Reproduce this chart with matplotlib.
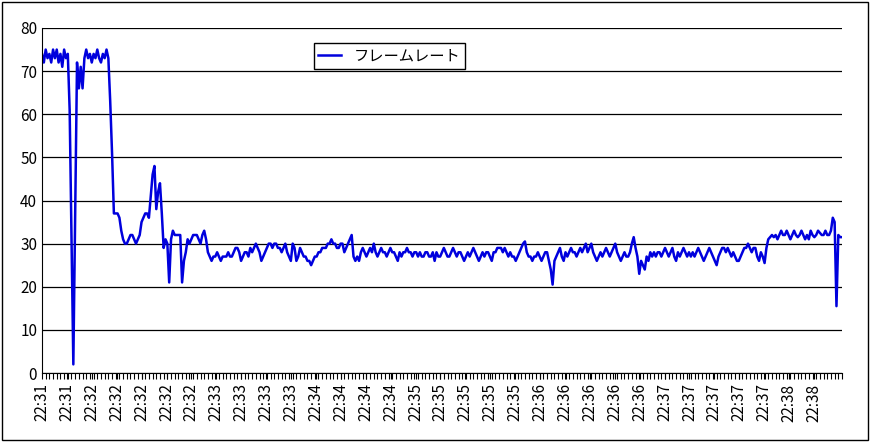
import numpy as np
import matplotlib.pyplot as plt
from matplotlib.ticker import MultipleLocator

plt.rcParams['font.family'] = ['Noto Sans CJK JP', 'DejaVu Sans']

# frame rate samples (one per second)
fps = [
    74, 72, 75, 73, 74, 72, 75, 73, 75, 72, 74, 71, 75, 73, 74,
    61, 31, 2, 38, 72, 66, 71,
    66, 73, 75, 73, 74, 72, 74, 73, 75, 73, 72, 74, 73, 75,
    73, 63, 51, 37, 37,
    37, 36, 33, 31, 30, 30, 31,
    32, 32, 31, 30, 31, 32,
    35, 36, 37, 37, 36,
    41, 46, 48, 38, 42, 44,
    37, 29, 31, 30, 21, 31, 33, 32,
    32, 32, 32, 21, 26, 28, 31, 30,
    31, 32, 32, 32, 31, 30, 32, 33, 31, 28,
    27, 26, 27, 27, 28, 27, 26, 27, 27, 27, 28, 27, 27, 28, 29, 29, 28, 26, 27, 28,
    28, 27, 29, 28, 29, 30, 29, 28, 26, 27, 28, 29, 30, 30, 29, 30, 30, 29, 29, 28,
    29, 30, 28, 27, 26, 30, 29, 26, 27, 29, 28, 27, 27, 26, 26, 25, 26, 27, 27, 28,
    28, 29, 29, 29, 30, 30, 31, 30, 30, 29, 29, 30, 30, 28, 29, 30, 31, 32, 27, 26,
    27, 26, 28, 29, 28, 27, 28, 29, 28, 30, 28, 27, 28, 29, 28, 28, 27, 28, 29, 28,
    28, 27, 26, 28, 27, 28, 28, 29, 28, 28, 27, 28, 28, 27, 28, 27, 27, 28, 28, 27,
    27, 28, 26, 28, 27, 27, 28, 29, 28, 27, 27, 28, 29, 28, 27, 28, 28, 27, 26, 27,
    28, 27, 28, 29, 28, 27, 26, 27, 28, 27, 28, 28, 27, 26,
    28, 28, 29, 29, 29, 28, 29, 28, 27, 28, 27, 27, 26, 27, 28, 29, 30, 30.5, 28, 27,
    27, 26, 27, 27, 28, 27, 26, 27, 28, 28, 26, 24, 20.5, 26, 27, 28, 29, 27, 26, 28,
    27, 28, 29, 28, 28, 27, 28, 29, 28, 29, 30, 28, 29, 30, 28, 27, 26, 27, 28, 27,
    28, 29, 28, 27, 28, 29, 30, 28,
    27, 26, 27, 28, 27, 27, 28, 30, 31.5, 29, 27, 23, 26, 25, 24, 27, 26, 28, 27, 28,
    27, 28, 28, 27, 28, 29, 28, 27, 28, 29, 27, 26, 28, 27, 28, 29, 28, 27, 28, 27,
    28, 27, 28, 29, 28, 27, 26, 27, 28, 29, 28, 27,
    26, 25, 27, 28, 29, 29, 28, 29, 28, 27, 28, 27, 26, 26, 27, 28, 29, 29, 30, 29,
    28, 29, 29, 27, 26, 28, 27, 25.5, 29, 31, 31.5, 32, 31.5, 32, 31, 32, 33, 32, 32, 33,
    32, 31, 32, 33, 32, 31.5, 32, 33, 32, 31, 32, 31, 33, 32, 31.5, 32, 33, 32.5, 32, 32,
    33, 32, 32, 33, 36, 35, 15.5, 32, 31.5, 31.5,
]
labels = ['22:31'] * 2 + ['22:32'] * 5 + ['22:33'] * 4 + ['22:34'] * 4 + \
         ['22:35'] * 5 + ['22:36'] * 5 + ['22:37'] * 5 + ['22:38'] * 2
n_ticks = 32.2  # label intervals across the plot width

fig = plt.figure(figsize=(8.71, 4.42), dpi=100)
fig.patches.append(plt.Rectangle((0.002, 0.004), 0.995, 0.992, transform=fig.transFigure,
                                 fill=False, edgecolor='black', linewidth=1))
ax = fig.add_axes([42 / 871, 69 / 442, 800 / 871, 345 / 442])

x = np.arange(len(fps))
ax.plot(x, fps, color='#0000dd', linewidth=1.8, label='フレームレート')

step = len(fps) / n_ticks
pos = np.arange(len(labels)) * step
ax.set_xticks(pos)
ax.set_xticklabels(labels, rotation=90, fontsize=11)
ax.set_xticks(np.arange(0, len(fps), 2), minor=True)
ax.tick_params(axis='x', which='both', direction='out', length=4, width=0.8)
ax.tick_params(axis='y', length=0, labelsize=11)

ax.set_ylim(0, 80)
ax.set_xlim(0, len(fps) - 1)
ax.yaxis.set_major_locator(MultipleLocator(10))
ax.grid(axis='y', color='black', linewidth=0.9)
for s in ['right', 'top']:
    ax.spines[s].set_visible(False)

ax.legend(loc='upper left', bbox_to_anchor=(0.33, 0.98), fancybox=False,
          edgecolor='black', fontsize=11, handlelength=1.5, borderpad=0.3,
          framealpha=1)

fig.savefig('out.png', dpi=100)
